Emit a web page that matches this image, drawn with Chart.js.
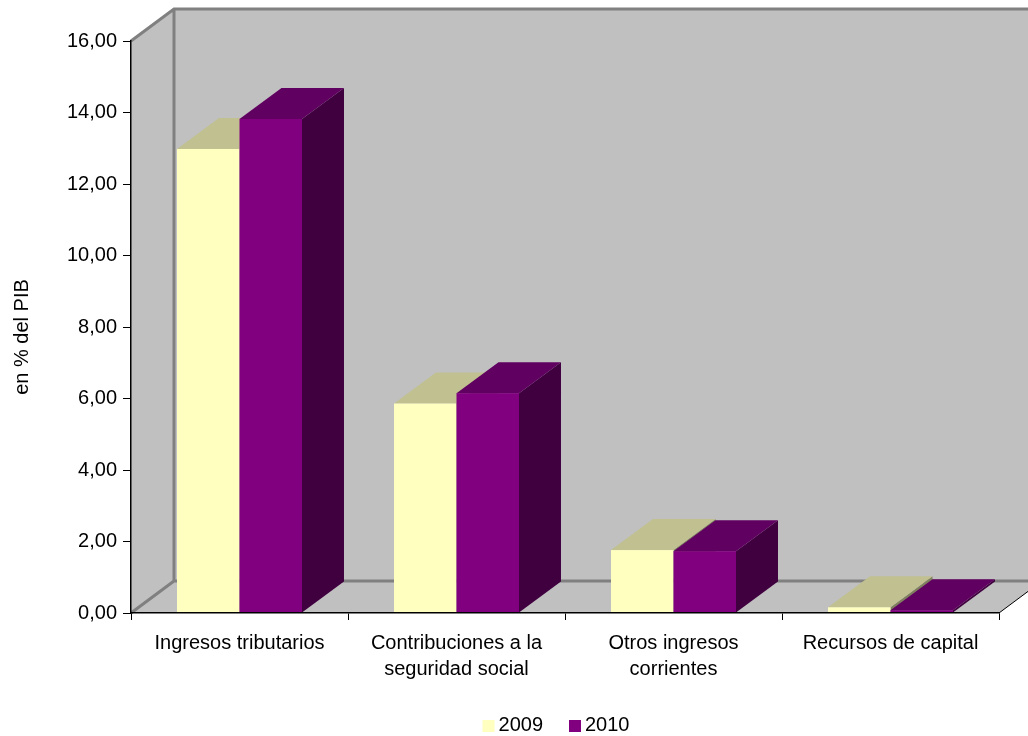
<!DOCTYPE html>
<html>
<head>
<meta charset="utf-8">
<script src="https://cdn.jsdelivr.net/npm/chart.js@4.4.1/dist/chart.umd.min.js"></script>
<style>
  html, body { margin: 0; padding: 0; background: #ffffff; }
  #c { display: block; }
</style>
</head>
<body>
<canvas id="c" width="1028" height="736"></canvas>
<script>
// Ingresos del sector público, en % del PIB
const categories = [
  ['Ingresos tributarios'],
  ['Contribuciones a la', 'seguridad social'],
  ['Otros ingresos', 'corrientes'],
  ['Recursos de capital']
];
const seriesNames = ['2009', '2010'];
const values2009 = [12.98, 5.86, 1.76, 0.16];
const values2010 = [13.82, 6.15, 1.73, 0.08];
const yTicks = [0, 2, 4, 6, 8, 10, 12, 14, 16];
const yTickLabels = ['0,00', '2,00', '4,00', '6,00', '8,00', '10,00', '12,00', '14,00', '16,00'];
const yTitle = 'en % del PIB';

const FONT = "'Liberation Sans', Arial, sans-serif";
const WALL_DEPTH = { dx: 43, dy: -32 };
const BAR_DEPTH = { dx: 42, dy: -31 };

// Walls, floor and 3D column faces
const box3d = {
  id: 'box3d',
  beforeDraw(chart) {
    const { ctx, chartArea: a } = chart;
    const { dx, dy } = WALL_DEPTH;
    const far = chart.width + 60;
    ctx.save();
    ctx.fillStyle = '#c0c0c0';
    // back wall
    ctx.fillRect(a.left + dx, a.top + dy, far, a.bottom - a.top);
    // side wall
    ctx.beginPath();
    ctx.moveTo(a.left, a.bottom);
    ctx.lineTo(a.left, a.top);
    ctx.lineTo(a.left + dx, a.top + dy);
    ctx.lineTo(a.left + dx, a.bottom + dy);
    ctx.closePath();
    ctx.fill();
    // floor
    ctx.beginPath();
    ctx.moveTo(a.left, a.bottom);
    ctx.lineTo(a.right, a.bottom);
    ctx.lineTo(a.right + dx, a.bottom + dy);
    ctx.lineTo(a.left + dx, a.bottom + dy);
    ctx.closePath();
    ctx.fill();
    // wall edges
    ctx.strokeStyle = '#808080';
    ctx.lineWidth = 3;
    ctx.beginPath();
    ctx.moveTo(a.left, a.top);
    ctx.lineTo(a.left + dx, a.top + dy);
    ctx.lineTo(far, a.top + dy);
    ctx.moveTo(a.left + dx, a.top + dy);
    ctx.lineTo(a.left + dx, a.bottom + dy);
    ctx.lineTo(far, a.bottom + dy);
    ctx.moveTo(a.left, a.bottom);
    ctx.lineTo(a.left + dx, a.bottom + dy);
    ctx.stroke();
    // right edge of the floor
    ctx.strokeStyle = '#000000';
    ctx.lineWidth = 1;
    ctx.beginPath();
    ctx.moveTo(a.right, a.bottom);
    ctx.lineTo(a.right + dx, a.bottom + dy);
    ctx.stroke();
    ctx.restore();
  },
  beforeDatasetsDraw(chart) {
    const { ctx } = chart;
    const { dx, dy } = BAR_DEPTH;
    const nCats = chart.data.labels.length;
    ctx.save();
    for (let j = 0; j < nCats; j++) {
      chart.data.datasets.forEach((ds, i) => {
        const el = chart.getDatasetMeta(i).data[j];
        const { x, y, base, width } = el.getProps(['x', 'y', 'base', 'width'], true);
        const x0 = x - width / 2, x1 = x + width / 2;
        // side face
        ctx.fillStyle = ds.sideColor;
        ctx.beginPath();
        ctx.moveTo(x1, y);
        ctx.lineTo(x1 + dx, y + dy);
        ctx.lineTo(x1 + dx, base + dy);
        ctx.lineTo(x1, base);
        ctx.closePath();
        ctx.fill();
        // top face
        ctx.fillStyle = ds.topColor;
        ctx.beginPath();
        ctx.moveTo(x0, y);
        ctx.lineTo(x1, y);
        ctx.lineTo(x1 + dx, y + dy);
        ctx.lineTo(x0 + dx, y + dy);
        ctx.closePath();
        ctx.fill();
        // front face
        ctx.fillStyle = ds.backgroundColor;
        ctx.fillRect(x0, y, x1 - x0, base - y);
      });
    }
    ctx.restore();
    return false;
  },
  afterDraw(chart) {
    const { ctx } = chart;
    ctx.save();
    ctx.fillStyle = '#000000';
    ctx.font = '20px ' + FONT;
    // y-axis title
    ctx.save();
    ctx.translate(28, 337);
    ctx.rotate(-Math.PI / 2);
    ctx.textAlign = 'center';
    ctx.textBaseline = 'alphabetic';
    ctx.fillText(yTitle, 0, 0);
    ctx.restore();
    // legend
    const box = 12, gapText = 4, gapItem = 26;
    const items = chart.data.datasets.map(ds => ({
      text: ds.label, color: ds.backgroundColor, w: ctx.measureText(ds.label).width
    }));
    const total = items.reduce((s, it) => s + box + gapText + it.w, 0) + gapItem * (items.length - 1);
    let lx = 556 - total / 2;
    ctx.textAlign = 'left';
    ctx.textBaseline = 'alphabetic';
    items.forEach(it => {
      ctx.fillStyle = it.color;
      ctx.fillRect(lx, 720, box, box);
      ctx.fillStyle = '#000000';
      ctx.fillText(it.text, lx + box + gapText, 731);
      lx += box + gapText + it.w + gapItem;
    });
    ctx.restore();
  }
};

new Chart(document.getElementById('c'), {
  type: 'bar',
  data: {
    labels: categories,
    datasets: [
      { label: seriesNames[0], data: values2009, backgroundColor: '#ffffc0', topColor: '#c0c090', sideColor: '#808060' },
      { label: seriesNames[1], data: values2010, backgroundColor: '#800080', topColor: '#600060', sideColor: '#400040' }
    ]
  },
  options: {
    responsive: false,
    animation: false,
    devicePixelRatio: 1,
    categoryPercentage: 0.576,
    barPercentage: 1.0,
    layout: { padding: { top: 41, right: 29, bottom: 0, left: 0 } },
    plugins: { legend: { display: false }, tooltip: { enabled: false } },
    scales: {
      x: {
        grid: { drawOnChartArea: false, color: '#000000', tickLength: 7, offset: true },
        border: { color: '#000000', width: 1.5, z: 1 },
        ticks: { color: '#000000', font: { family: FONT, size: 20, lineHeight: 1.3 }, padding: 10, maxRotation: 0, autoSkip: false },
        afterFit(s) { s.height = 123; }
      },
      y: {
        min: 0,
        max: 16,
        grid: { drawOnChartArea: false, color: '#000000', tickLength: 8 },
        border: { color: '#000000', width: 1.5, z: 1 },
        ticks: {
          stepSize: 2, color: '#000000', padding: 6,
          font: { family: FONT, size: 20 },
          callback: v => yTickLabels[yTicks.indexOf(v)]
        },
        afterFit(s) { s.width = 131; }
      }
    }
  },
  plugins: [box3d]
});
</script>
</body>
</html>
